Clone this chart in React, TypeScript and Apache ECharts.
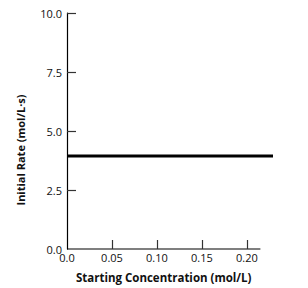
import React, { useEffect, useRef } from "react";
import * as echarts from "echarts";

const xTicks = [0, 0.05, 0.1, 0.15, 0.2];
const xAxisEnd = 0.215;
const yTicks = [0, 2.5, 5, 7.5, 10];
const concentrations = [0, 0.229];
const rates = [3.94, 3.94];
const xTitle = "Starting Concentration (mol/L)";
const yTitle = "Initial Rate (mol/L\u00b7s)";

export default function App() {
  const ref = useRef<HTMLDivElement>(null);
  useEffect(() => {
    const chart = echarts.init(ref.current!, null, { renderer: "svg" });
    const font = "'Open Sans', sans-serif";
    chart.setOption({
      animation: false,
      grid: { left: 67, top: 13, right: 35, bottom: 39 },
      xAxis: {
        type: "value",
        min: 0,
        max: 0.229,
        axisLine: { show: false },
        axisTick: { inside: true, length: 9, customValues: xTicks.slice(1), lineStyle: { color: "#333", width: 1.2 } },
        axisLabel: {
          customValues: xTicks,
          formatter: (v: number) => (v === 0 ? "0.0" : v.toFixed(2)),
          color: "#111",
          fontFamily: font,
          fontSize: 11,
          margin: 3,
        },
        splitLine: { show: false },
      },
      yAxis: {
        type: "value",
        min: 0,
        max: 10,
        interval: 2.5,
        axisLine: { show: true, lineStyle: { color: "#000", width: 1.2 } },
        axisTick: { show: true, inside: true, length: 9, customValues: yTicks.slice(1), lineStyle: { color: "#333", width: 1.2 } },
        axisLabel: {
          customValues: yTicks,
          formatter: (v: number) => v.toFixed(1),
          color: "#111",
          fontFamily: font,
          fontSize: 11,
          margin: 5,
        },
        splitLine: { show: false },
      },
      series: [
        {
          type: "line",
          data: concentrations.map((c, i) => [c, rates[i]]),
          showSymbol: false,
          lineStyle: { color: "#000", width: 3 },
        },
      ],
    });
    const p0 = chart.convertToPixel({ gridIndex: 0 }, [0, 0]) as number[];
    const p1 = chart.convertToPixel({ gridIndex: 0 }, [xAxisEnd, 0]) as number[];
    const gridCenterX = (p0[0] + p1[0]) / 2;
    chart.setOption({
      graphic: [
        {
          type: "line",
          shape: { x1: p0[0], y1: p0[1], x2: p1[0], y2: p1[1] },
          style: { stroke: "#000", lineWidth: 1.2 },
        },
        {
          type: "text",
          x: gridCenterX,
          y: 277,
          style: {
            text: xTitle,
            fontFamily: font,
            fontWeight: "bold",
            fontSize: 11.5,
            fill: "#111",
            align: "center",
            verticalAlign: "middle",
          },
        },
        {
          type: "text",
          x: 20,
          y: 150,
          rotation: Math.PI / 2,
          style: {
            text: yTitle,
            fontFamily: font,
            fontWeight: "bold",
            fontSize: 11,
            fill: "#111",
            align: "center",
            verticalAlign: "middle",
          },
        },
      ],
    });
    return () => chart.dispose();
  }, []);
  return <div ref={ref} style={{ width: 308, height: 288, position: "absolute", left: 0, top: 0 }} />;
}
